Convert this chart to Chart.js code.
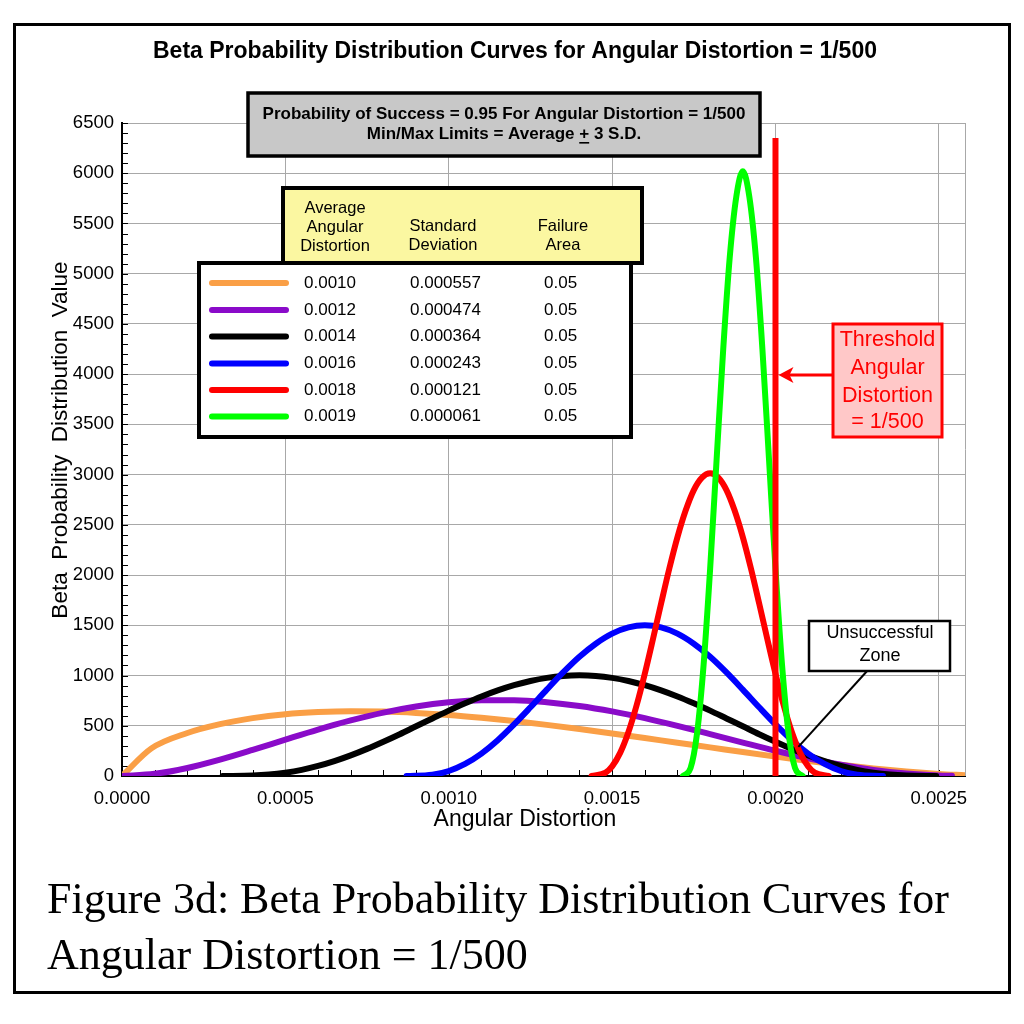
<!DOCTYPE html>
<html><head><meta charset="utf-8">
<script src="https://cdn.jsdelivr.net/npm/chart.js@4.4.1/dist/chart.umd.min.js"></script>
<style>
html,body{margin:0;padding:0;background:#fff;}
canvas{display:block;}
</style></head><body>
<canvas id="c" width="1024" height="1024"></canvas>
<script>
// ---------- DATA ----------
const xTicks = [0, 0.0005, 0.0010, 0.0015, 0.0020, 0.0025];
const yTicks = [0,500,1000,1500,2000,2500,3000,3500,4000,4500,5000,5500,6000,6500];
const X_MIN = 0, X_MAX = 0.00258, Y_MIN = 0, Y_MAX = 6500;

const orangeX = [0,0.00009,0.0002,0.0003,0.0004,0.0005,0.0006,0.0007,0.0008,0.0009,0.0010,0.0011,0.0012,0.0013,0.0014,0.0015,0.0016,0.0017,0.0018,0.0019,0.0020,0.0021,0.0022,0.0023,0.0024,0.0025,0.00258];
const orangeY = [0,275,428,516,576,615,636,645,641,628,608,580,547,509,468,424,378,331,285,238,193,150,111,75,45,21,7];

const purpleX = [0,0.0001,0.0002,0.0003,0.0004,0.0005,0.0006,0.0007,0.0008,0.0009,0.0010,0.0011,0.0012,0.0013,0.0014,0.0015,0.0016,0.0017,0.0018,0.0019,0.0020,0.0021,0.0022,0.0023,0.0024,0.0025,0.00254];
const purpleY = [0,22,80,163,260,362,462,553,631,692,734,755,755,735,697,643,576,499,417,333,251,177,112,61,26,6,2];

const blackX = [0.000308,0.0004,0.00045,0.0005,0.00055,0.0006,0.00065,0.0007,0.00075,0.0008,0.00085,0.0009,0.00095,0.0010,0.00105,0.0011,0.00115,0.0012,0.00125,0.0013,0.00135,0.0014,0.00145,0.0015,0.00155,0.0016,0.00165,0.0017,0.00175,0.0018,0.00185,0.0019,0.00195,0.0020,0.00205,0.0021,0.00215,0.0022,0.00225,0.0023,0.00235,0.0024,0.002492];
const blackY = [0,4,14,33,61,100,148,205,270,341,416,495,573,651,723,791,852,904,946,977,996,1002,996,977,946,904,852,791,723,651,573,495,416,341,270,205,148,100,61,33,14,4,0];

const blueX = [0.000871,0.00095,0.0010,0.00105,0.0011,0.00115,0.0012,0.00125,0.0013,0.00135,0.0014,0.00145,0.0015,0.00155,0.0016,0.00165,0.0017,0.00175,0.0018,0.00185,0.0019,0.00195,0.0020,0.00205,0.0021,0.00215,0.0022,0.00225,0.002329];
const blueY = [0,13,50,120,223,356,513,684,860,1031,1187,1317,1417,1479,1500,1479,1417,1317,1187,1031,860,684,513,356,223,120,50,13,0];

const redX = [0.001437,0.00148,0.0015,0.001525,0.00155,0.001575,0.0016,0.001625,0.00165,0.001675,0.0017,0.001725,0.00175,0.001775,0.0018,0.001825,0.00185,0.001875,0.0019,0.001925,0.00195,0.001975,0.0020,0.002025,0.00205,0.002075,0.0021,0.00212,0.002163];
const redY = [0,33,96,233,438,704,1018,1363,1718,2064,2378,2642,2846,2970,3013,2970,2846,2642,2378,2064,1718,1363,1018,704,438,233,96,33,0];

const greenX = [0.001717,0.00174,0.00176,0.00178,0.0018,0.00182,0.00184,0.00186,0.00188,0.0019,0.00192,0.00194,0.00196,0.00198,0.0020,0.00202,0.00204,0.00206,0.002083];
const greenY = [0,78,426,1107,2063,3162,4247,5163,5765,6020,5765,5163,4247,3162,2063,1107,426,78,0];

const thresholdX = [0.0020, 0.0020];
const thresholdY = [0, 6350];

const avgDistortion = ['0.0010','0.0012','0.0014','0.0016','0.0018','0.0019'];
const stdDeviation  = ['0.000557','0.000474','0.000364','0.000243','0.000121','0.000061'];
const failureArea   = ['0.05','0.05','0.05','0.05','0.05','0.05'];

// ---------- STYLE ----------
const COLORS = ['#FA9F46','#8A0BC9','#000000','#0000FF','#FF0000','#00FF00'];
const GRID = '#A8A8A8';
const SANS = '"Liberation Sans", Arial, Helvetica, sans-serif';
const SERIF = '"Liberation Serif", "Times New Roman", serif';

const pts = (xs, ys) => xs.map((x, i) => ({x: x, y: ys[i]}));
const seriesXs = [orangeX, purpleX, blackX, blueX, redX, greenX];
const seriesYs = [orangeY, purpleY, blackY, blueY, redY, greenY];

const datasets = seriesXs.map((xs, i) => ({
  label: avgDistortion[i],
  data: pts(xs, seriesYs[i]),
  borderColor: COLORS[i],
  borderWidth: 6,
  showLine: true,
  pointRadius: 0,
  cubicInterpolationMode: 'monotone',
  order: 6 - i + 1
}));
datasets.push({
  label: 'Threshold',
  data: pts(thresholdX, thresholdY),
  borderColor: '#FF0000',
  borderWidth: 6,
  showLine: true,
  pointRadius: 0,
  tension: 0,
  borderCapStyle: 'butt',
  order: 0
});

function box(ctx, x, y, w, h, fill, stroke, lw) {
  ctx.save();
  ctx.fillStyle = fill; ctx.fillRect(x, y, w, h);
  ctx.strokeStyle = stroke; ctx.lineWidth = lw; ctx.strokeRect(x, y, w, h);
  ctx.restore();
}
function txt(ctx, s, x, y, font, color, align) {
  ctx.font = font; ctx.fillStyle = color; ctx.textAlign = align || 'center';
  ctx.textBaseline = 'middle'; ctx.fillText(s, x, y);
}

const decor = {
  id: 'decor',
  beforeDraw(chart) {
    const c = chart.ctx; c.save(); c.fillStyle = '#fff'; c.fillRect(0, 0, chart.width, chart.height); c.restore();
  },
  beforeDatasetsDraw(chart) {
    const {ctx, chartArea: a, scales: {x, y}} = chart;
    ctx.save();
    ctx.strokeStyle = GRID; ctx.lineWidth = 1;
    ctx.beginPath(); ctx.moveTo(Math.round(a.right) + 0.5, a.top); ctx.lineTo(Math.round(a.right) + 0.5, a.bottom); ctx.stroke();
    ctx.strokeStyle = '#000'; ctx.lineWidth = 1; ctx.beginPath();
    for (let i = 0; i <= 25; i++) {
      const xp = Math.round(x.getPixelForValue(i * 0.0001)) + 0.5;
      ctx.moveTo(xp, a.bottom); ctx.lineTo(xp, a.bottom - 6);
    }
    for (let i = 0; i <= 65; i++) {
      const yp = Math.round(y.getPixelForValue(i * 100)) + 0.5;
      ctx.moveTo(a.left, yp); ctx.lineTo(a.left + 6, yp);
    }
    ctx.stroke();
    ctx.restore();
  },
  afterDraw(chart) {
    const {ctx, scales: {x, y}} = chart;
    ctx.save();
    // Title
    txt(ctx, 'Beta Probability Distribution Curves for Angular Distortion = 1/500', 515, 52, 'bold 23px ' + SANS, '#000');
    // Axis titles
    txt(ctx, 'Angular Distortion', 525, 820, '23px ' + SANS, '#000');
    ctx.save(); ctx.translate(61, 440); ctx.rotate(-Math.PI / 2);
    txt(ctx, 'Beta  Probability  Distribution  Value', 0, 0, '22.5px ' + SANS, '#000');
    ctx.restore();

    // Grey info box
    box(ctx, 248, 93, 512, 63, '#C8C8C8', '#000', 3.5);
    txt(ctx, 'Probability of Success = 0.95 For Angular Distortion = 1/500', 504, 114, 'bold 17px ' + SANS, '#000');
    const l2a = 'Min/Max Limits = Average ', l2b = '+', l2c = ' 3 S.D.';
    ctx.font = 'bold 17px ' + SANS;
    const wa = ctx.measureText(l2a).width, wb = ctx.measureText(l2b).width, wc = ctx.measureText(l2c).width;
    const sx = 504 - (wa + wb + wc) / 2;
    txt(ctx, l2a + l2b + l2c, sx, 134, 'bold 17px ' + SANS, '#000', 'left');
    ctx.fillStyle = '#000'; ctx.fillRect(sx + wa, 142, wb, 1.6);

    // Legend table body
    box(ctx, 199, 263, 432, 174, '#FFFFFF', '#000', 4);
    // Yellow header
    box(ctx, 283, 188, 359, 75, '#FBF7A1', '#000', 4);
    const hf = '16.5px ' + SANS;
    txt(ctx, 'Average', 335, 208, hf, '#000');
    txt(ctx, 'Angular', 335, 227, hf, '#000');
    txt(ctx, 'Distortion', 335, 246, hf, '#000');
    txt(ctx, 'Standard', 443, 226, hf, '#000');
    txt(ctx, 'Deviation', 443, 245, hf, '#000');
    txt(ctx, 'Failure', 563, 226, hf, '#000');
    txt(ctx, 'Area', 563, 245, hf, '#000');
    const rowY = [283, 310, 336.5, 363.5, 390, 416.5];
    for (let i = 0; i < 6; i++) {
      ctx.strokeStyle = COLORS[i]; ctx.lineWidth = 6; ctx.lineCap = 'round';
      ctx.beginPath(); ctx.moveTo(212, rowY[i]); ctx.lineTo(286, rowY[i]); ctx.stroke();
      txt(ctx, avgDistortion[i], 304, rowY[i], '17px ' + SANS, '#000', 'left');
      txt(ctx, stdDeviation[i], 410, rowY[i], '17px ' + SANS, '#000', 'left');
      txt(ctx, failureArea[i], 544, rowY[i], '17px ' + SANS, '#000', 'left');
    }

    // Threshold annotation
    const tipX = x.getPixelForValue(thresholdX[0]) + 3;
    box(ctx, 833, 324, 109, 113, '#FFC8C8', '#FF0000', 3);
    ctx.strokeStyle = '#FF0000'; ctx.lineWidth = 3; ctx.lineCap = 'butt';
    ctx.beginPath(); ctx.moveTo(833, 375); ctx.lineTo(tipX + 8, 375); ctx.stroke();
    ctx.fillStyle = '#FF0000'; ctx.beginPath();
    ctx.moveTo(tipX, 375); ctx.lineTo(tipX + 15, 367); ctx.lineTo(tipX + 11, 375); ctx.lineTo(tipX + 15, 383); ctx.closePath(); ctx.fill();
    const tf = '21.5px ' + SANS;
    txt(ctx, 'Threshold', 887.5, 340, tf, '#FF0000');
    txt(ctx, 'Angular', 887.5, 368, tf, '#FF0000');
    txt(ctx, 'Distortion', 887.5, 396, tf, '#FF0000');
    txt(ctx, '= 1/500', 887.5, 422, tf, '#FF0000');

    // Unsuccessful zone annotation
    const lx = x.getPixelForValue(0.00207), ly = y.getPixelForValue(290);
    ctx.strokeStyle = '#000'; ctx.lineWidth = 2;
    ctx.beginPath(); ctx.moveTo(868, 670); ctx.lineTo(lx, ly); ctx.stroke();
    box(ctx, 809, 621, 141, 50, '#FFFFFF', '#000', 2.5);
    txt(ctx, 'Unsuccessful', 880, 633, '18px ' + SANS, '#000');
    txt(ctx, 'Zone', 880, 656, '18px ' + SANS, '#000');

    // Caption
    ctx.font = '44px ' + SERIF; ctx.fillStyle = '#000'; ctx.textAlign = 'left'; ctx.textBaseline = 'alphabetic';
    ctx.fillText('Figure 3d: Beta Probability Distribution Curves for', 47, 913);
    ctx.fillText('Angular Distortion = 1/500', 47, 969);

    // Outer frame
    ctx.strokeStyle = '#000'; ctx.lineWidth = 3;
    ctx.strokeRect(14.5, 24.5, 995, 968);
    ctx.restore();
  }
};

new Chart(document.getElementById('c'), {
  type: 'scatter',
  data: { datasets: datasets },
  options: {
    responsive: false, animation: false, devicePixelRatio: 1,
    layout: { padding: { left: 42, right: 59, top: 123, bottom: 208 } },
    plugins: { legend: { display: false }, tooltip: { enabled: false }, title: { display: false } },
    elements: { point: { radius: 0 }, line: { borderCapStyle: 'round', borderJoinStyle: 'round' } },
    scales: {
      x: {
        type: 'linear', min: X_MIN, max: X_MAX,
        afterBuildTicks: s => { s.ticks = xTicks.map(v => ({ value: v })); },
        afterFit: s => { s.height = 40; },
        grid: { color: GRID, lineWidth: 1, drawTicks: false },
        border: { display: true, color: '#000', width: 2 },
        ticks: { padding: 12, font: { family: SANS, size: 18.5 }, color: '#000', autoSkip: false, maxRotation: 0,
                 callback: v => Number(v).toFixed(4) }
      },
      y: {
        type: 'linear', min: Y_MIN, max: Y_MAX,
        afterBuildTicks: s => { s.ticks = yTicks.map(v => ({ value: v })); },
        afterFit: s => { s.width = 80; },
        grid: { color: GRID, lineWidth: 1, drawTicks: false },
        border: { display: true, color: '#000', width: 2 },
        ticks: { padding: 8, font: { family: SANS, size: 18.5 }, color: '#000', autoSkip: false,
                 callback: v => String(v) }
      }
    }
  },
  plugins: [decor]
});
</script>
</body></html>
